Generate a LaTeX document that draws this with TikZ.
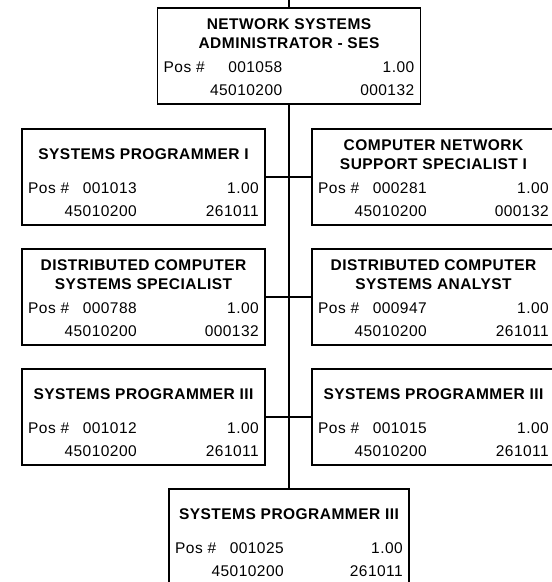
\documentclass[tikz,border=0pt]{standalone}
\usepackage{fontspec}
\newfontfamily\arialf[LetterSpace=3]{Liberation Sans}
\tikzset{
  pbox/.style={draw, line width=1.5pt, rectangle, inner sep=0pt, outer sep=0pt, fill=white},
  ttl/.style={font=\arialf\bfseries\fontsize{15.5}{19}\selectfont, align=center, inner sep=0pt},
  txt/.style={font=\arialf\fontsize{15.5}{18}\selectfont, inner sep=0pt},
  conn/.style={draw=black, line width=2pt}
}
% #1 name, #2 left, #3 top, #4 width, #5 number column offset, #6 title, #7 pos, #8 code
\newcommand\orgbox[8]{%
  \node[pbox, minimum width=#4pt, minimum height=96pt, anchor=north west] (#1) at (#2,#3) {};
  \node[ttl] (#1t) at ([yshift=-25.5pt]#1.north) {#6};
  \node[txt, anchor=base west] (#1p) at ([xshift=6pt, yshift=31.5pt]#1.south west) {Pos \#};
  \node[txt, anchor=base east] (#1n) at ([xshift=#5pt, yshift=31.5pt]#1.south west) {#7};
  \node[txt, anchor=base east] (#1f) at ([xshift=-6pt, yshift=31.5pt]#1.south east) {1.00};
  \node[txt, anchor=base east] (#1c) at ([xshift=#5pt, yshift=8.5pt]#1.south west) {45010200};
  \node[txt, anchor=base east] (#1d) at ([xshift=-6pt, yshift=8.5pt]#1.south east) {#8};
}
\begin{document}
\begin{tikzpicture}[x=1pt, y=-1pt]
\useasboundingbox (0,0) rectangle (552,582);
\clip (0,0) rectangle (552,582);
\fill[white] (0,0) rectangle (552,582);
\coordinate (topend) at (289,-2);
\orgbox{top}{157.5}{8}{263}{125}{NETWORK SYSTEMS\\ADMINISTRATOR - SES}{001058}{000132}
\orgbox{lA}{22}{129}{243}{115}{SYSTEMS PROGRAMMER I}{001013}{261011}
\orgbox{rA}{312}{129}{243}{115}{COMPUTER NETWORK\\SUPPORT SPECIALIST I}{000281}{000132}
\orgbox{lB}{22}{249}{243}{115}{DISTRIBUTED COMPUTER\\SYSTEMS SPECIALIST}{000788}{000132}
\orgbox{rB}{312}{249}{243}{115}{DISTRIBUTED COMPUTER\\SYSTEMS ANALYST}{000947}{261011}
\orgbox{lC}{22}{369}{243}{115}{SYSTEMS PROGRAMMER III}{001012}{261011}
\orgbox{rC}{312}{369}{243}{115}{SYSTEMS PROGRAMMER III}{001015}{261011}
\orgbox{bot}{169}{489}{240}{115}{SYSTEMS PROGRAMMER III}{001025}{261011}
\draw[conn] (topend) -- (top.north);
\draw[conn] (top.south) -- (bot.north -| top.south);
\draw[conn] (lA.east) -- (rA.west);
\draw[conn] (lB.east) -- (rB.west);
\draw[conn] (lC.east) -- (rC.west);
\end{tikzpicture}
\end{document}
